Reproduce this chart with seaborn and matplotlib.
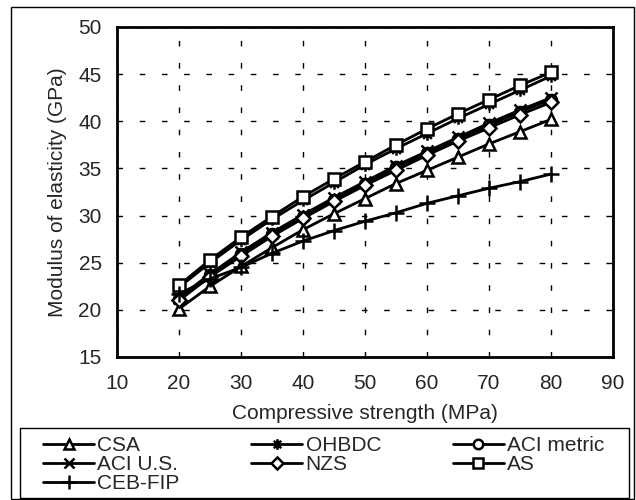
import seaborn as sns
import pandas as pd
import matplotlib.pyplot as plt
from matplotlib.patches import Rectangle
from matplotlib.path import Path
from matplotlib.ticker import MultipleLocator

strength = [20, 25, 30, 35, 40, 45, 50, 55, 60, 65, 70, 75, 80]

csa = [20.1, 22.5, 24.6, 26.6, 28.5, 30.2, 31.8, 33.4, 34.8, 36.2, 37.6, 38.9, 40.2]
ohbdc = [22.4, 25.0, 27.4, 29.6, 31.6, 33.5, 35.4, 37.1, 38.7, 40.3, 41.8, 43.3, 44.8]
aci_metric = [21.2, 23.7, 25.9, 28.0, 29.9, 31.7, 33.4, 35.1, 36.6, 38.1, 39.6, 41.0, 42.3]
aci_us = [21.3, 23.8, 26.1, 28.2, 30.1, 31.9, 33.6, 35.3, 36.8, 38.3, 39.8, 41.2, 42.5]
nzs = [21.0, 23.5, 25.7, 27.8, 29.7, 31.5, 33.2, 34.8, 36.4, 37.9, 39.3, 40.7, 42.0]
as_ = [22.6, 25.3, 27.7, 29.9, 32.0, 33.9, 35.7, 37.5, 39.2, 40.8, 42.3, 43.8, 45.2]
ceb_fip = [21.7, 23.3, 24.5, 26.0, 27.3, 28.4, 29.4, 30.3, 31.3, 32.1, 32.9, 33.6, 34.4]

series = {
	"CSA": csa,
	"OHBDC": ohbdc,
	"ACI metric": aci_metric,
	"ACI U.S.": aci_us,
	"NZS": nzs,
	"AS": as_,
	"CEB-FIP": ceb_fip,
}

# excel style star: an x with a vertical stroke through it
star = Path([(0, -1), (0, 1), (-0.7, -0.7), (0.7, 0.7), (-0.7, 0.7), (0.7, -0.7)],
	[Path.MOVETO, Path.LINETO] * 3)

markers = {
	"CSA": "^",
	"OHBDC": star,
	"ACI metric": "o",
	"ACI U.S.": "x",
	"NZS": "D",
	"AS": "s",
	"CEB-FIP": "+",
}
sizes = {"CSA": 9, "OHBDC": 9, "ACI metric": 8, "ACI U.S.": 9, "NZS": 7, "AS": 8.5, "CEB-FIP": 12}

sns.set_style("white")
plt.rcParams['font.family'] = ['Liberation Sans', 'DejaVu Sans']
plt.rcParams['font.size'] = 15

fig = plt.figure(figsize=(6.36, 5), dpi=100)
ax = fig.add_axes([117 / 636, 1 - 357 / 500, 496 / 636, 330 / 500])

for name, vals in series.items():
	df = pd.DataFrame({'x': strength, 'y': vals})
	sns.lineplot(x='x', y='y', data=df, ax=ax, color='black', linewidth=2,
		marker=markers[name], markersize=sizes[name], markerfacecolor='white',
		markeredgecolor='black', markeredgewidth=1.8, label=name)

ax.set_xlim(10, 90)
ax.set_ylim(15, 50)
ax.xaxis.set_major_locator(MultipleLocator(10))
ax.xaxis.set_minor_locator(MultipleLocator(5))
ax.yaxis.set_major_locator(MultipleLocator(5))
ax.yaxis.set_minor_locator(MultipleLocator(2.5))
ax.tick_params(which='both', direction='in', length=4, width=1, color='black', labelsize=15)
ax.tick_params(which='minor', length=3)
ax.tick_params(axis='y', which='major', pad=11)
ax.tick_params(axis='x', which='major', pad=12)
ax.grid(True, which='major', color='black', linestyle=(0, (4, 12)), linewidth=1)
for s in ax.spines.values():
	s.set_color('black')
	s.set_linewidth(2)
ax.set_xlabel('Compressive strength (MPa)', fontsize=15, labelpad=8)
ax.set_ylabel('Modulus of elasticity (GPa)', fontsize=15, labelpad=8)

h, l = ax.get_legend_handles_labels()
ax.get_legend().remove()
order = ["CSA", "ACI U.S.", "CEB-FIP", "OHBDC", "NZS", "ACI metric", "AS"]
hd = dict(zip(l, h))
lg = fig.legend([hd[k] for k in order], order, loc='upper left', ncol=3,
	bbox_to_anchor=(43 / 636, 1 - 436 / 500), frameon=False, fontsize=15,
	handlelength=2.45, handletextpad=0.15, columnspacing=3.45,
	labelspacing=0.0, borderpad=0, borderaxespad=0, markerscale=0.85)

# legend box and outer chart border
fig.patches.append(Rectangle((20 / 636, 2 / 500), 609 / 636, 70 / 500, transform=fig.transFigure,
	fill=False, edgecolor='black', linewidth=1))
fig.patches.append(Rectangle((11 / 636, 1 / 500), 623 / 636, 492 / 500, transform=fig.transFigure,
	fill=False, edgecolor='black', linewidth=1))

plt.savefig('out.png', dpi=100)
